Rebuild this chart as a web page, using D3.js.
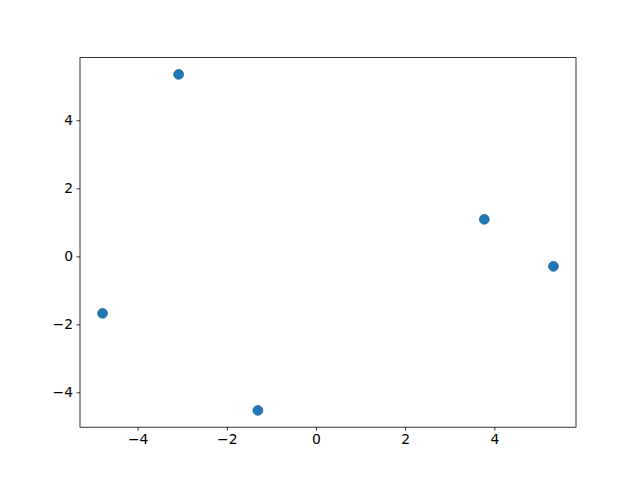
<!DOCTYPE html>
<html><head><meta charset="utf-8">
<script src="https://cdn.jsdelivr.net/npm/d3@7"></script>
<style>body{margin:0;background:#fff}svg{display:block}text{font-family:"DejaVu Sans",sans-serif}</style>
</head><body>
<script>
const xValues = [-3.08, 3.775, 5.326, -4.787, -1.303];
const yValues = [5.35, 1.088, -0.294, -1.676, -4.53];
const xTicks = [-4, -2, 0, 2, 4];
const yTicks = [-4, -2, 0, 2, 4];

const W = 640, H = 480;
const L = 80, R = 576, T = 57.6, B = 427.2;
const svg = d3.select("body").append("svg").attr("width", W).attr("height", H);

const xmin = d3.min(xValues), xmax = d3.max(xValues);
const ymin = d3.min(yValues), ymax = d3.max(yValues);
const mx = (xmax - xmin) * 0.05, my = (ymax - ymin) * 0.05;
const x = d3.scaleLinear().domain([xmin - mx, xmax + mx]).range([L, R]);
const y = d3.scaleLinear().domain([ymin - my, ymax + my]).range([B, T]);

const fmt = d => d < 0 ? "\u2212" + Math.abs(d) : String(d);

const xAxis = svg.append("g").attr("transform", `translate(0,${B})`)
  .call(d3.axisBottom(x).tickValues(xTicks).tickSize(3.5).tickPadding(3.5).tickFormat(fmt));
const yAxis = svg.append("g").attr("transform", `translate(${L},0)`)
  .call(d3.axisLeft(y).tickValues(yTicks).tickSize(3.5).tickPadding(3.5).tickFormat(fmt));
[xAxis, yAxis].forEach(a => {
  a.select(".domain").remove();
  a.selectAll("text").attr("font-size", 13.9).attr("fill", "#000").attr("font-family", "DejaVu Sans");
  a.selectAll("line").attr("stroke", "#000").attr("stroke-width", 0.8);
});

svg.append("g").selectAll("circle").data(xValues).join("circle")
  .attr("cx", (d, i) => x(d)).attr("cy", (d, i) => y(yValues[i]))
  .attr("r", 4.9).attr("fill", "#1f77b4").attr("stroke", "#1a6499").attr("stroke-width", 0.8);

svg.append("rect").attr("x", L).attr("y", T).attr("width", R - L).attr("height", B - T)
  .attr("fill", "none").attr("stroke", "#000").attr("stroke-width", 0.8);
</script>
</body></html>
